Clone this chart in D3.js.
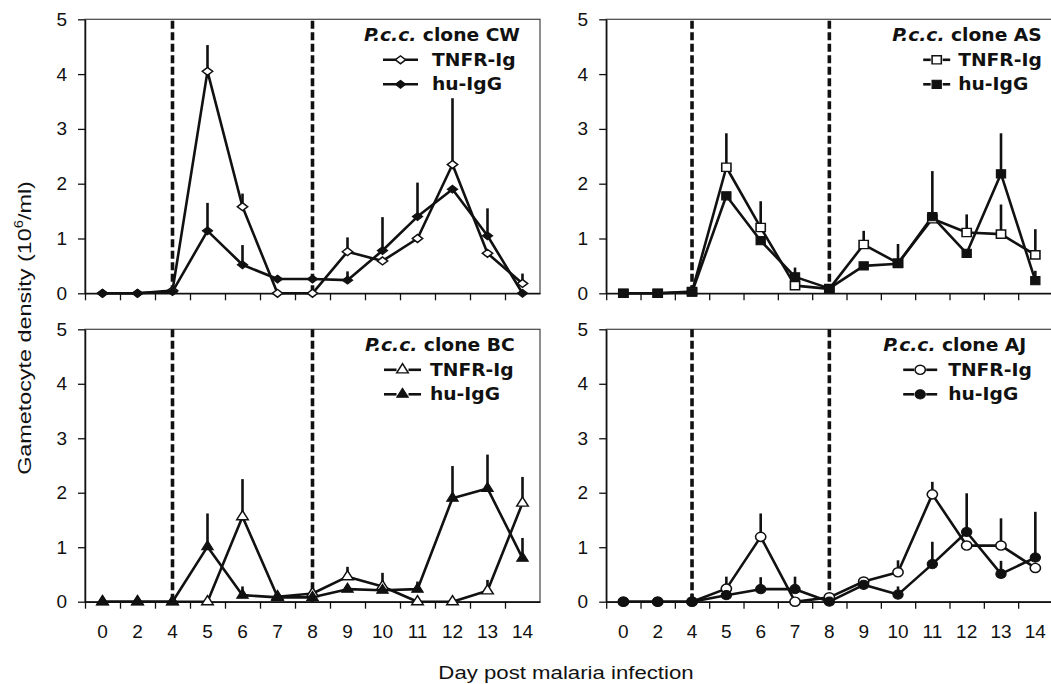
<!DOCTYPE html>
<html>
<head>
<meta charset="utf-8">
<script src="https://cdn.jsdelivr.net/npm/d3@7"></script>
<style>
  body { margin: 0; background: #fff; }
  svg { display: block; }
</style>
</head>
<body>
<div id="d3"></div>
<script>
const days = ["0", "2", "4", "5", "6", "7", "8", "9", "10", "11", "12", "13", "14"];
const treatmentDays = ["4", "8"];
const yTicks = [0, 1, 2, 3, 4, 5];
const seriesNames = ["TNFR-Ig", "hu-IgG"];

// clone CW (diamonds)
const cwTnfr = [0, 0, 0.05, 4.05, 1.58, 0, 0, 0.76, 0.59, 1.0, 2.35, 0.73, 0.18];
const cwTnfrErr = [0, 0, 0, 0.48, 0.24, 0, 0, 0.26, 0, 0, 1.21, 0, 0.18];
const cwHu = [0, 0, 0.03, 1.14, 0.52, 0.26, 0.26, 0.24, 0.78, 1.4, 1.9, 1.05, 0];
const cwHuErr = [0, 0, 0.08, 0.51, 0.36, 0, 0, 0.16, 0.61, 0.62, 0, 0.5, 0];

// clone AS (squares)
const asTnfr = [0, 0, 0.03, 2.3, 1.2, 0.14, 0.08, 0.89, 0.55, 1.36, 1.11, 1.08, 0.7];
const asTnfrErr = [0, 0, 0, 0.62, 0.48, 0, 0, 0.25, 0.35, 0, 0.33, 0.54, 0.47];
const asHu = [0, 0, 0.02, 1.78, 0.96, 0.3, 0.09, 0.5, 0.54, 1.4, 0.73, 2.18, 0.23];
const asHuErr = [0, 0, 0.12, 0, 0, 0.17, 0, 0, 0, 0.83, 0, 0.74, 0.18];

// clone BC (triangles)
const bcTnfr = [0, 0, 0, 0, 1.56, 0.09, 0.15, 0.46, 0.28, 0, 0, 0.2, 1.81];
const bcTnfrErr = [0, 0, 0, 0, 0.69, 0, 0, 0.18, 0.25, 0, 0, 0.2, 0.48];
const bcHu = [0, 0, 0, 1.01, 0.12, 0.08, 0.08, 0.23, 0.21, 0.23, 1.9, 2.08, 0.8];
const bcHuErr = [0, 0, 0, 0.61, 0.16, 0, 0, 0, 0, 0.14, 0.59, 0.62, 0.37];

// clone AJ (circles)
const ajTnfr = [0, 0, 0, 0.24, 1.19, 0, 0.08, 0.37, 0.54, 1.97, 1.03, 1.03, 0.62];
const ajTnfrErr = [0, 0, 0, 0.22, 0.43, 0, 0, 0, 0.22, 0.23, 0, 0.5, 0];
const ajHu = [0, 0, 0, 0.12, 0.23, 0.23, 0, 0.31, 0.13, 0.69, 1.28, 0.51, 0.81];
const ajHuErr = [0, 0, 0.15, 0, 0.22, 0.23, 0, 0.08, 0.15, 0.41, 0.71, 0.24, 0.84];

const chartWidth = 1051;
const chartHeight = 684;
const ink = "#111";
const sansFont = "'Liberation Sans', Arial, sans-serif";

// layout of the four panels
const panels = [
  { clone: "CW", shape: "diamond", tnfr: cwTnfr, tnfrErr: cwTnfrErr, hu: cwHu, huErr: cwHuErr,
    left: 85, right: 540, top: 19.3, bottom: 293.3, labels: false, fullLine: true,
    titleX: 279, sampleX: 298, sampleW: 35, textX: 347 },
  { clone: "AS", shape: "square", tnfr: asTnfr, tnfrErr: asTnfrErr, hu: asHu, huErr: asHuErr,
    left: 606.2, right: 1052.5, top: 19.3, bottom: 293.3, labels: false, fullLine: false,
    titleX: 286, sampleX: 317, sampleW: 27, textX: 352 },
  { clone: "BC", shape: "triangle", tnfr: bcTnfr, tnfrErr: bcTnfrErr, hu: bcHu, huErr: bcHuErr,
    left: 85, right: 540, top: 329.3, bottom: 601.7, labels: true, fullLine: false,
    titleX: 280, sampleX: 299, sampleW: 37, textX: 345 },
  { clone: "AJ", shape: "circle", tnfr: ajTnfr, tnfrErr: ajTnfrErr, hu: ajHu, huErr: ajHuErr,
    left: 606.2, right: 1052.5, top: 329.3, bottom: 601.7, labels: true, fullLine: false,
    titleX: 277, sampleX: 297, sampleW: 34, textX: 342 },
];

const svg = d3
  .select("#d3")
  .append("svg")
  .attr("width", chartWidth)
  .attr("height", chartHeight)
  .style("font-family", sansFont);

function symbolPath(shape) {
  if (shape === "diamond") return { d: d3.symbol(d3.symbolDiamond2, 44)(), sx: 1.25, sy: 0.95 };
  if (shape === "square") return { d: d3.symbol(d3.symbolSquare, 68)(), sx: 1.12, sy: 1 };
  if (shape === "triangle") return { d: d3.symbol(d3.symbolTriangle, 48)(), sx: 1.1, sy: 1 };
  return { d: d3.symbol(d3.symbolCircle, 66)(), sx: 1.12, sy: 1 };
}

function drawMarker(g, shape, cx, cy, filled) {
  const s = symbolPath(shape);
  g.append("path")
    .attr("d", s.d)
    .attr("transform", `translate(${cx},${cy}) scale(${s.sx},${s.sy})`)
    .attr("fill", filled ? ink : "#fff")
    .attr("stroke", ink)
    .attr("stroke-width", filled ? 1 : 1.4);
}

// text stretched a little sideways, as in the scanned figure
function stretchedText(g, x, y, sx) {
  return g.append("text").attr("transform", `translate(${x},${y}) scale(${sx},1)`);
}

panels.forEach((p) => {
  const g = svg.append("g");

  const x = d3.scaleBand().domain(days).range([p.left, p.right]);
  const xEdges = d3.scaleLinear().domain([0, days.length]).range([p.left, p.right]);
  const y = d3.scaleLinear().domain([0, 5]).range([p.bottom, p.top]);
  const cx = (d) => x(d) + x.bandwidth() / 2;

  // frame
  g.append("rect")
    .attr("x", p.left)
    .attr("y", p.top)
    .attr("width", p.right - p.left)
    .attr("height", p.bottom - p.top)
    .attr("fill", "none")
    .attr("stroke", "#444")
    .attr("stroke-width", 1.2);

  // y axis
  const yAxis = g
    .append("g")
    .attr("transform", `translate(${p.left},0)`)
    .call(d3.axisLeft(y).tickValues(yTicks).tickFormat(d3.format("d")).tickSize(7).tickSizeOuter(0).tickPadding(11));
  yAxis.select(".domain").attr("stroke", ink).attr("stroke-width", 1.5);
  yAxis.selectAll(".tick line").attr("stroke", ink).attr("stroke-width", 1.3);
  yAxis.selectAll("text").attr("font-size", 19).attr("fill", ink).attr("font-family", sansFont);

  // x axis: tick marks at category edges
  const xAxis = g
    .append("g")
    .attr("transform", `translate(0,${p.bottom})`)
    .call(d3.axisBottom(xEdges).tickValues(d3.range(0, days.length)).tickFormat("").tickSize(7).tickSizeOuter(0));
  xAxis.select(".domain").attr("stroke", ink).attr("stroke-width", 1.5);
  xAxis.selectAll(".tick line").attr("stroke", ink).attr("stroke-width", 1.3);

  if (p.labels) {
    const xLab = g
      .append("g")
      .attr("transform", `translate(0,${p.bottom})`)
      .call(d3.axisBottom(x).tickSize(0).tickPadding(23));
    xLab.select(".domain").remove();
    xLab.selectAll("text").attr("font-size", 19).attr("fill", ink).attr("font-family", sansFont);
  }

  // treatment window
  g.selectAll(".treat")
    .data(treatmentDays)
    .enter()
    .append("line")
    .attr("x1", cx)
    .attr("x2", cx)
    .attr("y1", y(0))
    .attr("y2", y(5))
    .attr("stroke", ink)
    .attr("stroke-width", 3.6)
    .attr("stroke-dasharray", "8,3.5");

  const series = [
    { values: p.tnfr, err: p.tnfrErr, filled: false },
    { values: p.hu, err: p.huErr, filled: true },
  ];

  const line = d3
    .line()
    .x((d, i) => cx(days[i]))
    .y((d) => y(d));

  series.forEach((s) => {
    g.append("path")
      .attr("d", line(s.values))
      .attr("fill", "none")
      .attr("stroke", ink)
      .attr("stroke-width", 2.6)
      .attr("stroke-linejoin", "round");
  });

  series.forEach((s) => {
    s.values.forEach((v, i) => {
      if (s.err[i] > 0) {
        g.append("line")
          .attr("x1", cx(days[i]))
          .attr("x2", cx(days[i]))
          .attr("y1", y(v))
          .attr("y2", y(v + s.err[i]))
          .attr("stroke", ink)
          .attr("stroke-width", 2.6);
      }
    });
  });

  series.forEach((s) => {
    s.values.forEach((v, i) => {
      drawMarker(g, p.shape, cx(days[i]), y(v), s.filled);
    });
  });

  // legend
  const lg = g
    .append("g")
    .attr("font-family", "'DejaVu Sans', Verdana, sans-serif")
    .attr("font-weight", "bold")
    .attr("font-size", 17)
    .attr("fill", ink);
  const title = stretchedText(lg, p.left + p.titleX, p.top + 21.5, 1.1);
  title.append("tspan").attr("font-style", "italic").text("P.c.c.");
  title.append("tspan").text(" clone " + p.clone);

  seriesNames.forEach((name, k) => {
    const rowY = p.top + (k === 0 ? 46.5 : 71);
    const x0 = p.left + p.sampleX;
    const x1 = x0 + p.sampleW;
    const mid = (x0 + x1) / 2;
    if (p.fullLine) {
      lg.append("line").attr("x1", x0).attr("x2", x1).attr("y1", rowY - 6).attr("y2", rowY - 6).attr("stroke", ink).attr("stroke-width", 2.6);
    } else {
      lg.append("line").attr("x1", x0).attr("x2", mid - 6).attr("y1", rowY - 6).attr("y2", rowY - 6).attr("stroke", ink).attr("stroke-width", 2.6);
      lg.append("line").attr("x1", mid + 6).attr("x2", x1).attr("y1", rowY - 6).attr("y2", rowY - 6).attr("stroke", ink).attr("stroke-width", 2.6);
    }
    drawMarker(lg, p.shape, mid, rowY - 6, k === 1);
    stretchedText(lg, p.left + p.textX, rowY, 1.1).text(name);
  });
});

// axis titles
stretchedText(svg, 566, 679, 1.2)
  .attr("text-anchor", "middle")
  .attr("font-size", 18.5)
  .attr("fill", ink)
  .text("Day post malaria infection");

const yTitle = svg
  .append("text")
  .attr("transform", "translate(31,328) rotate(-90) scale(1.23,1)")
  .attr("text-anchor", "middle")
  .attr("font-size", 19)
  .attr("fill", ink);
yTitle.append("tspan").text("Gametocyte density (10");
yTitle.append("tspan").attr("font-size", 12).attr("dy", -8).text("6");
yTitle.append("tspan").attr("dy", 8).text("/ml)");
</script>
</body>
</html>
